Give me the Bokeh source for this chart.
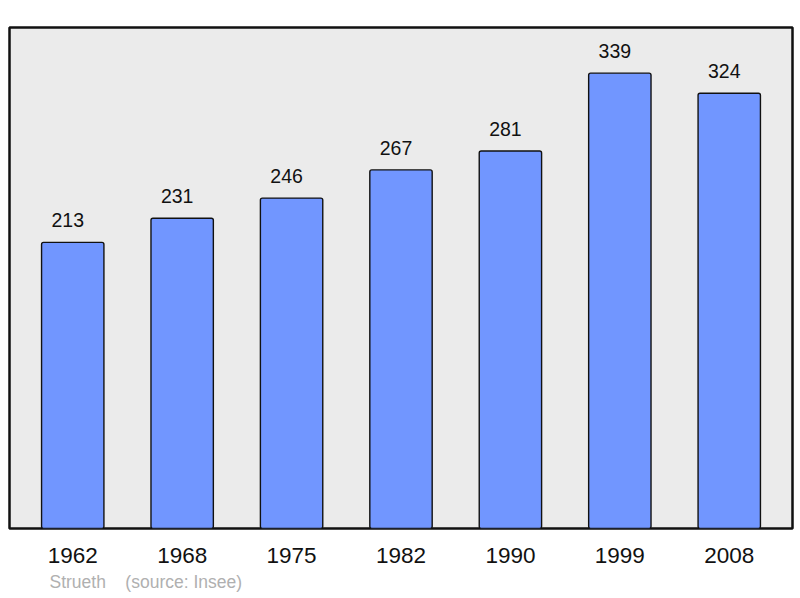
from bokeh.plotting import figure
from bokeh.models import ColumnDataSource, FactorRange, Range1d, Title
from bokeh.core.properties import value
from bokeh.embed import file_html
from bokeh.resources import INLINE

years = ["1962", "1968", "1975", "1982", "1990", "1999", "2008"]
population = [213, 231, 246, 267, 281, 339, 324]
labels = [str(v) for v in population]
source_note = "Strueth\u00a0\u00a0\u00a0\u00a0(source: Insee)"

src = ColumnDataSource(dict(year=years, pop=population, lab=labels))

p = figure(
    width=794, height=598,
    x_range=FactorRange(factors=years, range_padding=0.078, range_padding_units="absolute"),
    y_range=Range1d(0, 373),
    y_axis_type=None,
    output_backend="svg", toolbar_location=None,
    min_border_left=9, min_border_right=2, min_border_top=27, min_border_bottom=70,
)
p.background_fill_color = "#ebebeb"
p.border_fill_color = "white"
p.outline_line_color = "#111111"
p.outline_line_width = 2.5
p.xgrid.visible = False
p.ygrid.visible = False

p.vbar(x="year", top="pop", width=0.57, source=src, fill_color="#7196ff",
       line_color="#111111", line_width=1.4, border_radius=2)

p.text(x="year", y="pop", text="lab", source=src, text_align="center",
       text_baseline="alphabetic", y_offset=-22, x_offset=-5,
       text_font=value("Liberation Sans"), text_font_size="19.5px", text_color="#111111")

ax = p.xaxis[0]
ax.axis_line_color = None
ax.major_tick_line_color = None
ax.minor_tick_line_color = None
ax.major_tick_out = 0
ax.major_label_standoff = 19
ax.major_label_text_font = "Liberation Sans"
ax.major_label_text_font_size = "22.5px"
ax.major_label_text_color = "#111111"

t = Title(text=source_note, align="left", offset=40, text_font="Liberation Sans",
          text_font_size="17.5px", text_font_style="normal", text_color="#b0b0b0", standoff=9)
p.add_layout(t, "below")

open("out.html", "w").write(file_html(p, INLINE))
